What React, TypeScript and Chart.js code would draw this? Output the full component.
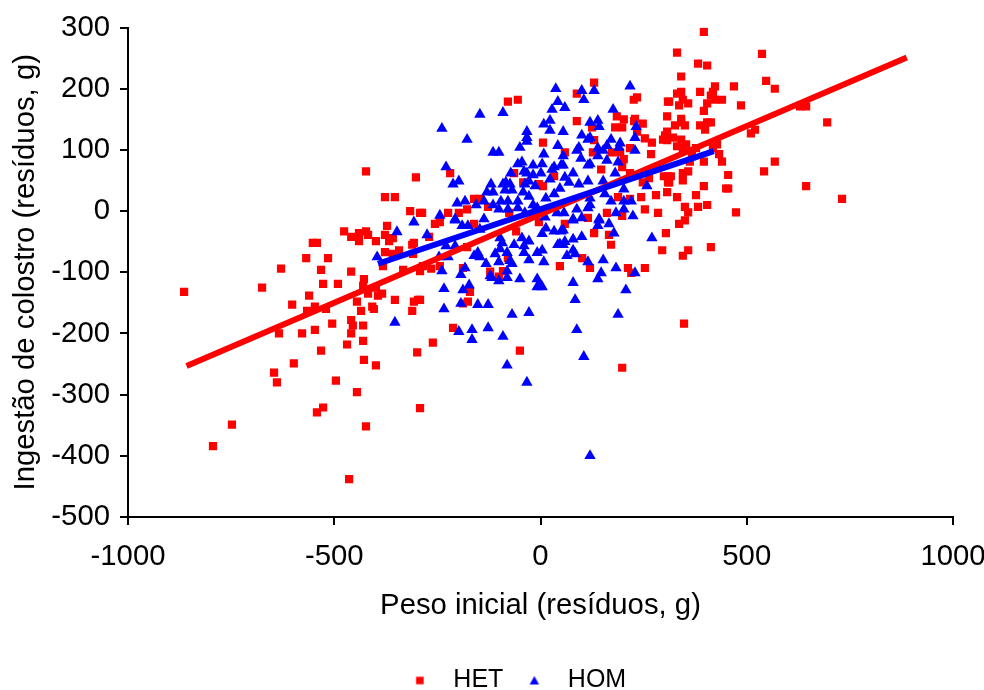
import React, { useEffect, useRef } from "react";
import { Chart, registerables } from "chart.js";

Chart.register(...registerables);

type Pair = [number, number];

const hetPoints: Pair[] = [
  [-423,65],[-302,55],[-377,23],[-353,23],[-316,0],[-292,-3],[-372,-24],[-476,-33],[-459,-42],[-440,-36],[-440,-49],[-423,-33],[-418,-39],[-399,-49],[-377,-39],[-367,-49],[-358,-44],[-307,-52],[-311,-55],[-552,-52],[-542,-52],[-568,-77],[-515,-77],[-629,-94],[-532,-96],[-459,-99],[-377,-67],[-358,-70],[-343,-64],[-382,-90],[-333,-96],[-309,-70],
  [-864,-132],[-675,-125],[-428,-111],[-527,-119],[-491,-119],[-430,-122],[-399,-125],[-418,-135],[-394,-138],[-384,-135],[-561,-138],[-353,-145],[-307,-148],[-297,-145],[-445,-148],[-602,-153],[-547,-156],[-566,-163],[-520,-160],[-435,-163],[-408,-156],[-404,-160],[-311,-163],[-459,-178],[-455,-187],[-430,-187],[-459,-200],[-505,-184],[-547,-194],[-578,-200],[-634,-200],[-430,-212],[-469,-218],[-532,-228],[-299,-231],[-428,-243],[-399,-252],[-598,-249],[-646,-264],[-639,-280],[-496,-277],[-445,-296],[-527,-321],[-542,-329],[-423,-352],[-292,-322],[-748,-349],[-794,-384],[-464,-438],
  [130,210],[88,192],[-79,179],[-55,182],[226,182],[234,186],[309,179],[88,147],[185,155],[202,150],[229,151],[227,147],[248,143],[307,155],[125,137],[181,137],[198,137],[234,130],[307,130],[304,119],[253,119],[270,112],[6,112],[130,116],[59,96],[217,103],[268,93],[202,85],[127,96],[173,96],[193,96],[198,72],[147,68],[217,62],[-64,62],[33,57],[263,54],[299,57],[309,57],[248,47],[309,47],[-42,47],[-4,44],[6,41],[280,26],[307,31],[244,23],[188,23],[217,20],[-161,20],[-147,20],[-219,62],[-178,3],[-198,-3],[-224,-3],[-287,-3],[253,3],[285,-3],[161,-3],[198,-8],[-76,-3],[-127,7],
  [-256,-21],[-244,-18],[-161,-21],[-59,-33],[-4,-18],[59,-21],[115,-11],[130,-36],[166,-39],[171,-55],[295,-64],[304,-36],[-270,-42],[-178,-59],[-79,-77],[101,-77],[47,-90],[120,-93],[212,-93],[220,-101],[253,-93],[-265,-94],[-285,-90],[-244,-90],[-292,-98],[-188,-93],[-122,-99],[-91,-98],[-101,-107],[-171,-132],[-292,-145],[-176,-148],[-188,-151],[-212,-191],[-261,-215],[-50,-228],[198,-256],
  [396,293],[331,259],[537,257],[382,241],[404,238],[341,220],[547,213],[568,200],[423,204],[469,204],[387,195],[341,195],[331,192],[418,195],[413,189],[345,182],[312,179],[358,176],[336,173],[423,182],[440,182],[404,176],[486,173],[396,164],[629,171],[644,171],[341,151],[341,145],[404,145],[413,145],[326,140],[350,140],[387,140],[399,133],[695,145],[520,133],[510,127],[302,124],[321,120],[297,117],[307,116],[341,117],[353,109],[331,106],[345,103],[428,109],[418,103],[377,103],[433,93],[367,90],[362,81],[396,81],[440,81],[568,81],[542,65],[455,59],[358,65],[345,62],[316,57],[312,47],[345,50],[396,41],[450,37],[455,37],[644,41],[731,20],[331,23],[377,26],[350,7],[382,7],[404,10],[358,-2],[474,-2],[350,-15],[336,-21],[358,-64],[345,-73],[413,-59],[348,-184],
];

const homPoints: Pair[] = [
  [-396,-75],[-348,-34],[-307,-18],[-353,-182],
  [37,200],[100,197],[130,197],[217,204],[105,182],[42,179],[28,166],[59,169],[-147,158],[-91,161],[-239,135],[-178,117],[176,166],[23,148],[8,142],[23,132],[55,130],[120,145],[139,148],[142,138],[232,138],[229,120],[229,99],[-33,130],[-33,120],[-33,114],[-50,104],[42,107],[100,124],[120,120],[115,117],[171,117],[193,111],[190,104],[161,107],[139,103],[152,99],[88,99],[93,104],[98,86],[8,93],[139,90],[55,90],[-115,96],[-101,96],[-229,72],[-198,49],[-212,44],[-55,77],[-45,80],[-18,75],[4,77],[33,72],[50,75],[55,75],[120,77],[115,75],[161,83],[188,80],[-72,62],[-40,65],[-33,62],[-18,59],[1,62],[28,68],[59,55],[79,62],[181,62],[115,49],[152,49],[23,52],[-28,49],[-38,44],[-13,41],[-120,44],[-91,44],[-84,47],[-74,44],[93,44],[69,47],[258,41],[202,36],[47,37],[-130,31],[-115,31],[-86,34],[-69,34],[-42,31],[-28,24],[33,28],[13,21],[156,28],[171,16],[202,16],[220,16],[-202,13],[-183,16],[-156,10],[-137,16],[-115,10],[-96,16],[-79,16],[-55,16],[-18,10],[120,21],[120,10],[202,3],[183,-3],[224,-8],[-244,-7],[-207,-13],[-137,-13],[142,-13],[79,-13],[100,-11],[57,-3],[11,-10],[-101,3],[-79,3],[-55,5],[-8,5],[40,-3],[88,3],[115,5],[-38,-3],[-18,-3],
  [-207,-15],[-190,-24],[-176,-24],[-147,-30],[-275,-39],[-229,-57],[-207,-57],[-246,-75],[-224,-75],[-161,-73],[-147,-75],[-152,-68],[-132,-86],[-183,-93],[-239,-98],[-193,-104],[-98,-44],[-93,-52],[-64,-55],[-45,-44],[-28,-49],[-40,-57],[-40,-68],[-98,-62],[-110,-70],[-81,-68],[-101,-83],[-69,-86],[-74,-81],[-28,-80],[-8,-68],[4,-64],[8,-83],[-81,-98],[-81,-109],[-101,-114],[-122,-106],[-118,-109],[-50,-111],[-8,-111],[-8,-124],[0,-121],[4,-124],[79,-117],[139,-111],[147,-101],[183,-93],[229,-101],[207,-129],[84,-145],[188,-169],[152,-80],[115,-83],[64,-73],[79,-64],[84,-70],[270,-44],[178,-36],[166,-21],[142,-15],[139,-24],[100,-42],[79,-46],[59,-50],[47,-54],[55,-55],[42,-55],[33,-33],[50,-33],[55,-31],[13,-28],[4,-37],[79,-15],
  [-234,-127],[-188,-129],[-173,-121],[-193,-151],[-234,-160],[-152,-153],[-127,-153],[-69,-169],[-28,-166],[-198,-197],[-166,-194],[-127,-191],[-166,-210],[-91,-205],[88,-194],[105,-238],[-81,-252],[120,-400],[-33,-280],
];

const hetTrendX = [-858, 888];
const hetTrendY = [-253, 251];
const homTrendX = [-394, 420];
const homTrendY = [-86, 98];

const seriesNames = ["HET", "HOM"];
const xAxisTitle = "Peso inicial (resíduos, g)";
const yAxisTitle = "Ingestão de colostro (resíduos, g)";

const RED = "#ff0000";
const BLUE = "#0000ff";
const FONT = "'Liberation Sans', Arial, sans-serif";
const AXIS_SIZE = 29.3;

function marker(kind: "square" | "triangle", color: string) {
  const c = document.createElement("canvas");
  c.width = 12;
  c.height = 12;
  const g = c.getContext("2d")!;
  g.fillStyle = color;
  if (kind === "square") {
    g.fillRect(2.25, 2.25, 7.5, 7.5);
  } else {
    g.beginPath();
    g.moveTo(6, 1.5);
    g.lineTo(10.7, 10);
    g.lineTo(1.3, 10);
    g.closePath();
    g.fill();
  }
  return c;
}

export default function App() {
  const ref = useRef<HTMLCanvasElement | null>(null);

  useEffect(() => {
    const legendNudge = {
      id: "legendNudge",
      afterLayout(chart: any) {
        chart.legend.left += 72;
        chart.legend.top += 13;
      },
    };
    const legendMarkers = [marker("square", RED), marker("triangle", BLUE)];
    const chart = new Chart(ref.current!, {
      type: "scatter",
      plugins: [legendNudge],
      data: {
        datasets: [
          {
            label: seriesNames[0],
            data: hetPoints.map(([x, y]) => ({ x, y })),
            pointStyle: "rect",
            pointRadius: 5.8,
            pointBackgroundColor: RED,
            pointBorderWidth: 0,
            showLine: false,
            order: 3,
          },
          {
            label: seriesNames[1],
            data: homPoints.map(([x, y]) => ({ x, y })),
            pointStyle: "triangle",
            pointRadius: 6.6,
            pointBackgroundColor: BLUE,
            pointBorderWidth: 0,
            showLine: false,
            order: 2,
          },
          {
            label: "HET trend",
            data: hetTrendX.map((x, i) => ({ x, y: hetTrendY[i] })),
            showLine: true,
            borderColor: RED,
            borderWidth: 6,
            pointRadius: 0,
            order: 1,
          },
          {
            label: "HOM trend",
            data: homTrendX.map((x, i) => ({ x, y: homTrendY[i] })),
            showLine: true,
            borderColor: BLUE,
            borderWidth: 6,
            pointRadius: 0,
            order: 0,
          },
        ],
      },
      options: {
        animation: false,
        responsive: false,
        layout: { padding: { left: 0, top: 25, right: 31, bottom: 0 } },
        plugins: {
          tooltip: { enabled: false },
          legend: {
            position: "bottom",
            labels: {
              usePointStyle: true,
              pointStyleWidth: 42,
              boxHeight: 8,
              padding: 10,
              color: "#000",
              font: { family: FONT, size: 25 },
              generateLabels: () =>
                seriesNames.map((name, i) => ({
                  text: name,
                  datasetIndex: i,
                  pointStyle: legendMarkers[i],
                  fillStyle: i === 0 ? RED : BLUE,
                  strokeStyle: "transparent",
                  lineWidth: 0,
                  fontColor: "#000",
                })),
            },
          },
        },
        scales: {
          x: {
            type: "linear",
            min: -1000,
            max: 1000,
            afterFit: (s: any) => {
              s.height = 128;
              s.paddingLeft = 0;
              s.paddingRight = 0;
            },
            ticks: {
              stepSize: 500,
              color: "#000",
              font: { family: FONT, size: AXIS_SIZE },
              padding: 14,
              maxRotation: 0,
              callback: (v: any) => String(v),
            },
            grid: {
              drawOnChartArea: false,
              color: "#000",
              lineWidth: 2,
              tickLength: 8,
            },
            border: { color: "#000", width: 2 },
            title: {
              display: true,
              text: xAxisTitle,
              color: "#000",
              font: { family: FONT, size: AXIS_SIZE },
              padding: { top: 0, bottom: 22 },
            },
          },
          y: {
            type: "linear",
            min: -500,
            max: 300,
            afterFit: (s: any) => {
              s.width = 128;
            },
            ticks: {
              stepSize: 100,
              color: "#000",
              font: { family: FONT, size: AXIS_SIZE },
              padding: 10,
              callback: (v: any) => String(v),
            },
            grid: {
              drawOnChartArea: false,
              color: "#000",
              lineWidth: 2,
              tickLength: 8,
            },
            border: { color: "#000", width: 2 },
            title: {
              display: true,
              text: yAxisTitle,
              color: "#000",
              font: { family: FONT, size: AXIS_SIZE },
              padding: { top: 8, bottom: 0 },
            },
          },
        },
      },
    } as any);
    return () => chart.destroy();
  }, []);

  return (
    <div style={{ position: "absolute", left: 0, top: 0, width: 984, height: 690 }}>
      <canvas ref={ref} width={984} height={690} style={{ display: "block" }} />
    </div>
  );
}
